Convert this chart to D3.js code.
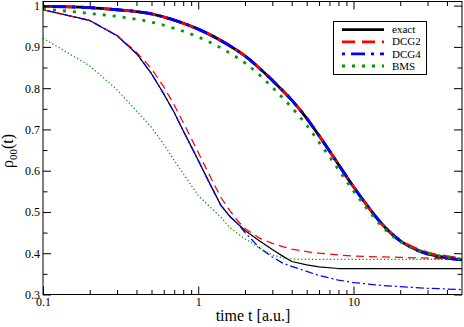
<!DOCTYPE html>
<html><head><meta charset="utf-8">
<script src="https://cdn.jsdelivr.net/npm/d3@7"></script>
<style>
html,body{margin:0;padding:0;background:#fff;}
svg{display:block;}
</style></head>
<body>
<svg id="c" width="464" height="327"></svg>
<script>
// ---- data ----
const tUpper = [0.1,0.15,0.2,0.3,0.5,0.7,1.0,1.5,2.0,2.5,3.0,4.0,5.0,6.0,7.0,8.0,10,12,15,20,25,30,40,50];
const exactUpper = [0.998,0.997,0.995,0.990,0.980,0.965,0.943,0.909,0.878,0.847,0.819,0.771,0.727,0.685,0.648,0.615,0.561,0.520,0.474,0.430,0.410,0.399,0.389,0.384];
const dcg2Upper  = [0.998,0.997,0.995,0.990,0.980,0.965,0.943,0.909,0.878,0.847,0.819,0.771,0.727,0.685,0.648,0.615,0.561,0.520,0.474,0.431,0.412,0.401,0.392,0.387];
const dcg4Upper  = [0.998,0.997,0.995,0.990,0.980,0.965,0.943,0.909,0.878,0.847,0.819,0.771,0.727,0.685,0.648,0.615,0.561,0.520,0.474,0.430,0.409,0.398,0.388,0.384];
const bmsUpper   = [0.991,0.986,0.981,0.974,0.960,0.945,0.924,0.891,0.861,0.831,0.802,0.753,0.710,0.669,0.634,0.603,0.551,0.512,0.468,0.428,0.410,0.400,0.390,0.386];

const tLower = [0.1,0.2,0.3,0.4,0.5,0.6,0.7,0.8,0.9,1.0,1.2,1.4,1.6,1.8,2.0,2.5,3.0,3.5,4.0,5.0,6.0,8.0,10,15,20,30,50];
const exactLower = [0.990,0.964,0.927,0.884,0.835,0.786,0.741,0.697,0.659,0.625,0.565,0.516,0.489,0.471,0.455,0.429,0.409,0.393,0.380,0.372,0.367,0.363,0.363,0.363,0.363,0.363,0.363];
const dcg2Lower  = [0.990,0.964,0.928,0.887,0.847,0.803,0.759,0.717,0.679,0.644,0.584,0.535,0.503,0.478,0.460,0.436,0.424,0.416,0.410,0.404,0.400,0.396,0.393,0.391,0.390,0.388,0.385];
const dcg4Lower  = [0.990,0.964,0.927,0.884,0.835,0.786,0.741,0.697,0.659,0.625,0.565,0.516,0.489,0.471,0.450,0.412,0.391,0.376,0.368,0.356,0.346,0.335,0.329,0.322,0.319,0.315,0.312];
const bmsLower   = [0.921,0.854,0.796,0.745,0.705,0.664,0.625,0.593,0.565,0.540,0.511,0.487,0.462,0.447,0.435,0.412,0.396,0.389,0.386,0.385,0.385,0.385,0.385,0.385,0.385,0.385,0.385];

const xMajor = [0.1,1,10];
const xMinor = [0.2,0.3,0.4,0.5,0.6,0.7,0.8,0.9,2,3,4,5,6,7,8,9,20,30,40];
const yMajor = [0.3,0.4,0.5,0.6,0.7,0.8,0.9,1.0];
const yMinor = [0.35,0.45,0.55,0.65,0.75,0.85,0.95];
const legendNames = ["exact","DCG2","DCG4","BMS"];
const xTitle = "time t [a.u.]";

// ---- drawing ----
const FONT = "'Liberation Serif','Times New Roman',serif";
const svg = d3.select("#c");
const L=43, R=462, T=1.5, B=294.5;
const x = d3.scaleLog().domain([0.1,50]).range([L,R]);
const y = d3.scaleLinear().domain([0.3,1.01]).range([B,T]);

const styles = {
  exact:{color:"#000000", dashU:null, dashL:null},
  DCG2:{color:"#ff0000", dashU:"13,7", dashL:"8,5"},
  DCG4:{color:"#0000ff", dashU:"3,6,14,6", dashL:"2,3,8,3"},
  BMS:{color:"#009a00", dashU:"3,7", dashL:"1.3,2.3"}
};

const g = svg.append("g");
const line = d3.line().x(d=>x(d[0])).y(d=>y(d[1]));
function draw(ts, vs, st, upper){
  const pts = ts.map((t,i)=>[t,vs[i]]);
  const p = g.append("path")
    .attr("d", (upper? line.curve(d3.curveMonotoneX) : line.curve(d3.curveLinear))(pts))
    .attr("fill","none")
    .attr("stroke", st.color)
    .attr("stroke-width", upper?2.8:1.25)
    .attr("stroke-linejoin","round");
  const da = upper? st.dashU : st.dashL;
  if(da) p.attr("stroke-dasharray", da);
}
draw(tLower, exactLower, styles.exact, false);
draw(tLower, dcg2Lower, styles.DCG2, false);
draw(tLower, dcg4Lower, styles.DCG4, false);
draw(tLower, bmsLower, styles.BMS, false);
draw(tUpper, exactUpper, styles.exact, true);
draw(tUpper, dcg2Upper, styles.DCG2, true);
draw(tUpper, dcg4Upper, styles.DCG4, true);
draw(tUpper, bmsUpper, styles.BMS, true);

const fmtX = d => d<1 ? d.toFixed(1) : String(d);
const fmtY = d => d===1 ? "1" : d.toFixed(1);
function styleAxis(sel){
  sel.attr("font-family", FONT);
  sel.select(".domain").remove();
  sel.selectAll("line").attr("stroke","#000").attr("stroke-width",1);
  sel.selectAll("text").attr("font-size",12).attr("fill","#000");
}
svg.append("g").attr("transform",`translate(0,${B})`)
  .call(d3.axisBottom(x).tickValues(xMajor).tickSize(-8).tickPadding(3).tickFormat(fmtX)).call(styleAxis);
svg.append("g").attr("transform",`translate(0,${B})`)
  .call(d3.axisBottom(x).tickValues(xMinor).tickSize(-4.5).tickFormat("")).call(styleAxis);
svg.append("g").attr("transform",`translate(0,${T})`)
  .call(d3.axisTop(x).tickValues(xMajor).tickSize(-8).tickFormat("")).call(styleAxis);
svg.append("g").attr("transform",`translate(0,${T})`)
  .call(d3.axisTop(x).tickValues(xMinor).tickSize(-4.5).tickFormat("")).call(styleAxis);
svg.append("g").attr("transform",`translate(${L},0)`)
  .call(d3.axisLeft(y).tickValues(yMajor).tickSize(-8).tickPadding(3).tickFormat(fmtY)).call(styleAxis);
svg.append("g").attr("transform",`translate(${L},0)`)
  .call(d3.axisLeft(y).tickValues(yMinor).tickSize(-4.5).tickFormat("")).call(styleAxis);
svg.append("g").attr("transform",`translate(${R},0)`)
  .call(d3.axisRight(y).tickValues(yMajor).tickSize(-8).tickFormat("")).call(styleAxis);
svg.append("g").attr("transform",`translate(${R},0)`)
  .call(d3.axisRight(y).tickValues(yMinor).tickSize(-4.5).tickFormat("")).call(styleAxis);

svg.append("rect").attr("x",L).attr("y",T).attr("width",R-L).attr("height",B-T)
  .attr("fill","none").attr("stroke","#000").attr("stroke-width",1);

svg.append("text").attr("x",253).attr("y",321).attr("text-anchor","middle")
  .attr("font-family",FONT).attr("font-size",16).text(xTitle);
const yt = svg.append("text").attr("transform","translate(13,151) rotate(-90)")
  .attr("text-anchor","middle").attr("font-family",FONT).attr("font-size",16);
yt.append("tspan").text("ρ");
yt.append("tspan").attr("font-size",11).attr("dy",4).text("00");
yt.append("tspan").attr("dy",-4).text("(t)");

const lg = svg.append("g");
lg.append("rect").attr("x",333.5).attr("y",21.5).attr("width",93).attr("height",53)
  .attr("fill","#fff").attr("stroke","#000").attr("stroke-width",1);
const rowsY = [29.7,41.8,53.9,66];
legendNames.forEach((n,i)=>{
  const st = styles[n];
  const l = lg.append("line").attr("x1",342).attr("x2",384).attr("y1",rowsY[i]).attr("y2",rowsY[i])
    .attr("stroke",st.color).attr("stroke-width",2.8);
  if(st.dashU) l.attr("stroke-dasharray",st.dashU);
  lg.append("text").attr("x",392).attr("y",rowsY[i]+3.6).attr("font-family",FONT).attr("font-size",11).text(n);
});
</script>
</body></html>
